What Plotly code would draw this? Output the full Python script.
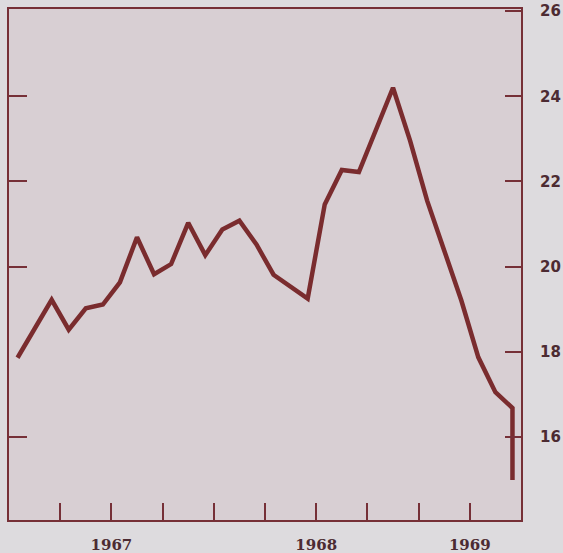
import plotly.graph_objects as go

# month positions (0 = first quarterly tick); data at mid-month
month_pos = [-2.5, -1.5, -0.5, 0.5, 1.5, 2.5, 3.5, 4.5, 5.5, 6.5, 7.5, 8.5,
             9.5, 10.5, 11.5, 12.5, 13.5, 14.5, 15.5, 16.5, 17.5, 18.5, 19.5,
             20.5, 21.5, 22.5, 23.5, 24.5, 25.5, 26.5, 26.5]
values = [17.86, 18.54, 19.22, 18.52, 19.02, 19.11, 19.63, 20.69, 19.82, 20.06,
          21.03, 20.27, 20.87, 21.08, 20.52, 19.81, 19.53, 19.25, 21.46, 22.27,
          22.22, 23.21, 24.20, 22.96, 21.55, 20.38, 19.21, 17.87, 17.05, 16.68,
          14.99]

x_tick_vals = [0, 3, 6, 9, 12, 15, 18, 21, 24]
x_tick_text = ["", "1967", "", "", "", "1968", "", "", "1969"]
y_right_ticks = [16, 18, 20, 22, 24, 26]
y_left_ticks = [16, 20, 22, 24]

LINE = "#7a2c2e"
FRAME = "#763037"
TEXT = "#4c2b32"

fig = go.Figure()
fig.add_trace(go.Scatter(x=month_pos, y=values, mode="lines",
                         line=dict(color=LINE, width=4.5), hoverinfo="skip",
                         showlegend=False))
fig.add_trace(go.Scatter(x=month_pos, y=values, mode="lines", yaxis="y2",
                         line=dict(color="rgba(0,0,0,0)", width=0),
                         hoverinfo="skip", showlegend=False))

fig.update_layout(
    width=563, height=553,
    margin=dict(l=9, r=42, t=9, b=33, autoexpand=False),
    paper_bgcolor="#dddbde",
    plot_bgcolor="#d8cfd3",
    xaxis=dict(range=[-3, 27], tickvals=x_tick_vals, ticktext=x_tick_text,
               ticks="inside", ticklen=17, tickwidth=2, tickcolor=FRAME,
               showline=True, linecolor=FRAME, linewidth=2, mirror=True,
               showgrid=False, zeroline=False, ticklabelstandoff=10,
               tickfont=dict(family="DejaVu Serif", size=15, color=TEXT, weight=700)),
    yaxis=dict(range=[14.05, 26.05], side="right", tickvals=y_right_ticks,
               ticks="inside", ticklen=16, tickwidth=2, tickcolor=FRAME,
               showline=True, linecolor=FRAME, linewidth=2, mirror=True,
               showgrid=False, zeroline=False, ticklabelstandoff=14,
               tickfont=dict(family="DejaVu Sans", size=15, color=TEXT, weight=700)),
    yaxis2=dict(range=[14.05, 26.05], overlaying="y", side="left",
                tickvals=y_left_ticks, ticks="inside", ticklen=18, tickwidth=2,
                tickcolor=FRAME, showticklabels=False, showline=False,
                showgrid=False, zeroline=False),
)

fig.write_html("out.html", config={"displayModeBar": False},
               post_script="document.body.style.margin='0';")
